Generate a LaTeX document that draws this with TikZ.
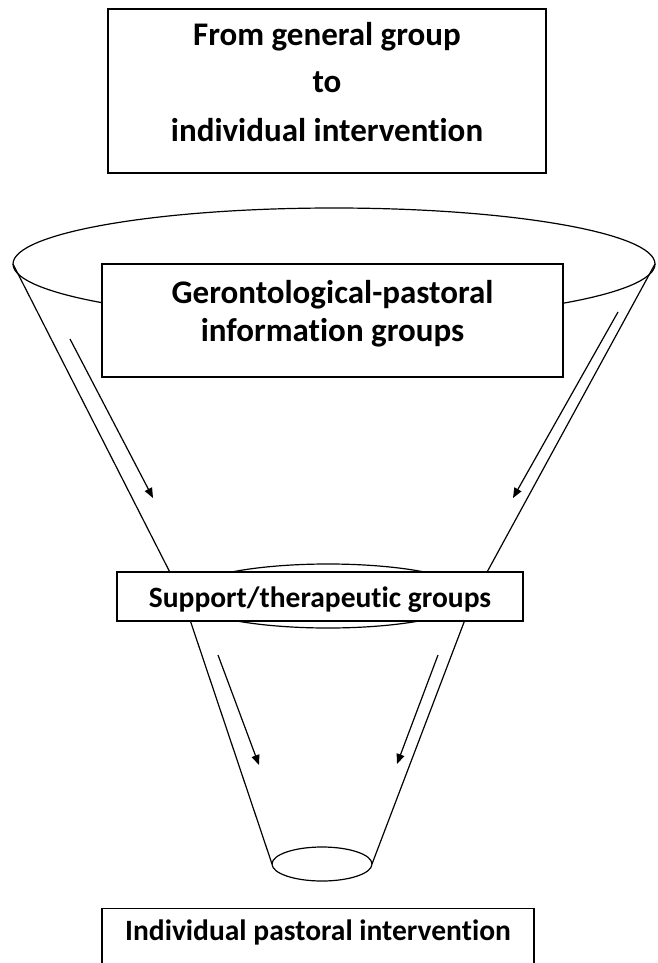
\documentclass[tikz,border=0pt]{standalone}
\usepackage{fontspec}
\setmainfont{Carlito}[Ligatures={NoCommon,NoContextual}, Contextuals={NoAlternate}]
\usetikzlibrary{arrows.meta}
\begin{document}
\begin{tikzpicture}[x=1pt,y=-1pt,
  boxstyle/.style={draw=black, line width=1.4pt, fill=white, align=center, inner sep=0pt},
  bigfont/.style={font=\bfseries\fontsize{33}{48}\selectfont},
  midfont/.style={font=\bfseries\fontsize{33}{38}\selectfont},
  smallfont/.style={font=\bfseries\fontsize{29.5}{36}\selectfont},
  funnel/.style={line width=1.2pt, line join=round},
  flowarrow/.style={line width=1.2pt, -{Triangle[length=10pt,width=8pt]}}]
\useasboundingbox (0,0) rectangle (657,963);
\clip (0,0) rectangle (657,963);
\fill[white] (0,0) rectangle (657,963);
% funnel geometry
\coordinate (bigC) at (334,264);
\coordinate (bigL) at (13,264);
\coordinate (bigR) at (655,264);
\coordinate (midC) at (328,596);
\coordinate (midL) at (182,596);
\coordinate (midR) at (474,596);
\coordinate (smC) at (322,864);
\coordinate (smL) at (272,864);
\coordinate (smR) at (372,864);
\draw[funnel] (bigC) ellipse [x radius=321pt, y radius=56pt];
\draw[funnel] (midC) ellipse [x radius=146pt, y radius=32pt];
\draw[funnel] (smC) ellipse [x radius=50pt, y radius=17pt];
\draw[funnel] (bigL) -- (midL) -- (smL);
\draw[funnel] (bigR) -- (midR) -- (smR);
% arrows
\coordinate (a1s) at (70,339);  \coordinate (a1e) at (153,498);
\coordinate (a2s) at (618,312); \coordinate (a2e) at (513,498);
\coordinate (a3s) at (218,655); \coordinate (a3e) at (259,765);
\coordinate (a4s) at (438,655); \coordinate (a4e) at (397,764);
\draw[flowarrow] (a1s) -- (a1e);
\draw[flowarrow] (a2s) -- (a2e);
\draw[flowarrow] (a3s) -- (a3e);
\draw[flowarrow] (a4s) -- (a4e);
% boxes
\node[boxstyle, bigfont, minimum width=438pt, minimum height=164pt] (title) at (327,91)
  {\rule{0pt}{28pt}From general group\\to\\individual intervention\rule[-24pt]{0pt}{0pt}};
\node[boxstyle, midfont, minimum width=461pt, minimum height=113pt] (info) at (332.5,320.5)
  {\rule{0pt}{28pt}Gerontological-pastoral\\information groups\rule[-25pt]{0pt}{0pt}};
\node[boxstyle, smallfont, minimum width=406pt, minimum height=49pt, text height=28pt, text depth=7pt] (support) at (320,596.5)
  {Support/therapeutic groups};
\node[boxstyle, smallfont, minimum width=432pt, inner ysep=4pt, text height=28pt, text depth=70pt, anchor=north] (indiv) at (318,908)
  {Individual pastoral intervention};
\end{tikzpicture}
\end{document}
